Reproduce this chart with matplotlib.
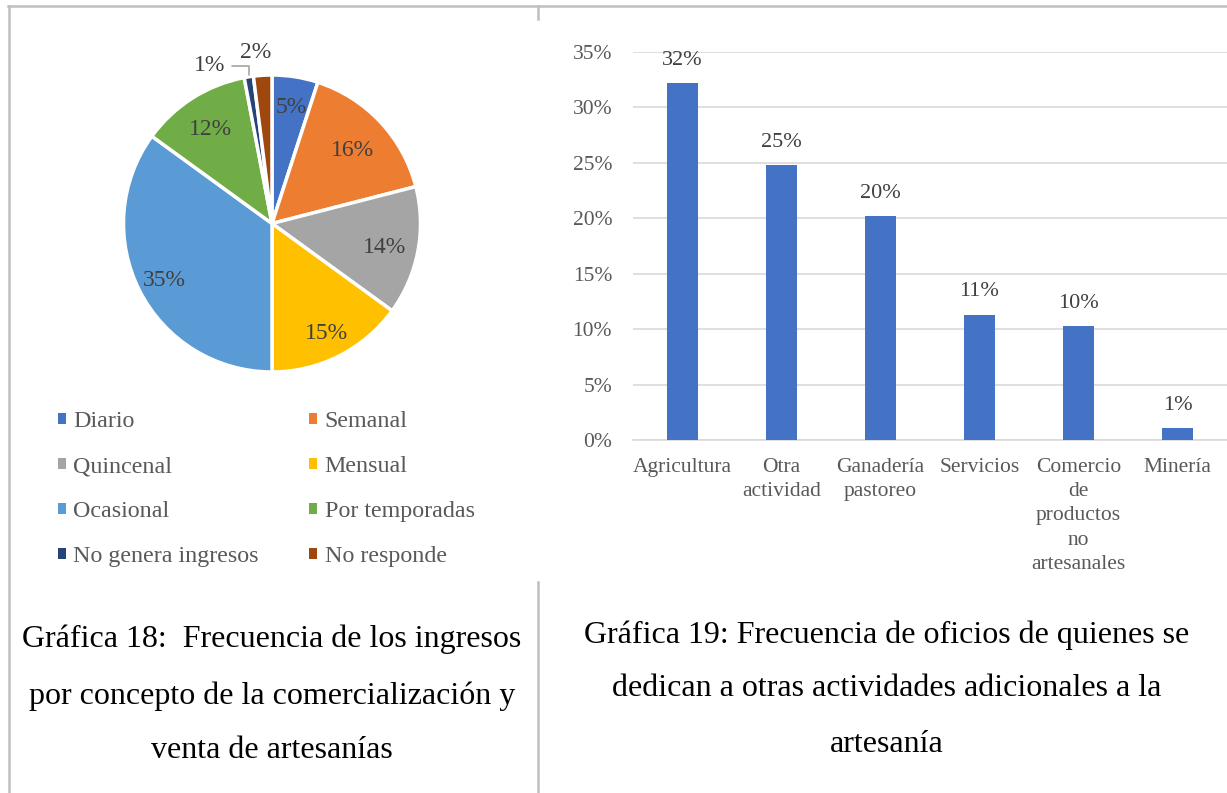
import numpy as np
import matplotlib
matplotlib.use("Agg")
import matplotlib.pyplot as plt
from matplotlib.lines import Line2D
from matplotlib.patches import Patch
from matplotlib.ticker import PercentFormatter

plt.rcParams["font.family"] = ["Liberation Serif", "DejaVu Serif"]

# pie data (Gráfica 18)
pie_labels = ["Diario", "Semanal", "Quincenal", "Mensual", "Ocasional",
              "Por temporadas", "No genera ingresos", "No responde"]
pie_values = [5, 16, 14, 15, 35, 12, 1, 2]
pie_colors = ["#4472C4", "#ED7D31", "#A5A5A5", "#FFC000", "#5B9BD5",
              "#70AD47", "#264478", "#9E480E"]

# bar data (Gráfica 19)
bar_cats = ["Agricultura", "Otra\nactividad", "Ganadería\npastoreo", "Servicios",
            "Comercio\nde\nproductos\nno\nartesanales", "Minería"]
bar_values = [0.322, 0.248, 0.202, 0.113, 0.103, 0.011]
bar_yticks = [0, 0.05, 0.10, 0.15, 0.20, 0.25, 0.30, 0.35]

caption_left = ["Gráfica 18:  Frecuencia de los ingresos",
                "por concepto de la comercialización y",
                "venta de artesanías"]
caption_right = ["Gráfica 19: Frecuencia de oficios de quienes se",
                 "dedican a otras actividades adicionales a la",
                 "artesanía"]

W, H = 1227, 793
fig = plt.figure(figsize=(W / 100, H / 100), dpi=100)

def box(x0, y0, x1, y1):
    # pixel box (top-left origin) -> figure fraction rect
    return [x0 / W, 1 - y1 / H, (x1 - x0) / W, (y1 - y0) / H]

gray_txt = "#595959"
lbl_txt = "#404040"

# ---- pie ----
axp = fig.add_axes(box(123.5, 75, 420.5, 372))
wedges, _ = axp.pie(pie_values, colors=pie_colors, startangle=90, counterclock=False,
                    radius=1, wedgeprops=dict(edgecolor="white", linewidth=2.5))
axp.set_xlim(-1, 1)
axp.set_ylim(-1, 1)
axp.set_aspect("equal")
axp.axis("off")

# label distance from centre for the inside labels (Excel "best fit")
inside_r = [0.81, 0.74, 0.77, 0.81, 0.81, 0.77]
for i, w in enumerate(wedges):
    ang = np.deg2rad((w.theta1 + w.theta2) / 2)
    txt = f"{pie_values[i]}%"
    if i < len(inside_r):
        r = inside_r[i]
        axp.text(r * np.cos(ang), r * np.sin(ang), txt, ha="center", va="center_baseline",
                 fontsize=17, color=lbl_txt)
    elif pie_values[i] == 2:
        axp.text(-0.108, 1.168, txt, ha="center", va="center_baseline", fontsize=17,
                 color=lbl_txt)
    else:
        x0, y0 = np.cos(ang), np.sin(ang)
        axp.annotate(txt, xy=(x0 * 1.01, y0 * 1.01), xytext=(-0.42, 1.08),
                     ha="center", va="center_baseline", fontsize=17, color=lbl_txt,
                     arrowprops=dict(arrowstyle="-", color="#A6A6A6", lw=1.2,
                                     connectionstyle="angle,angleA=0,angleB=90,rad=0",
                                     shrinkA=3, shrinkB=0),
                     annotation_clip=False)

# legend filled row by row (matplotlib fills columns first)
order = [0, 2, 4, 6, 1, 3, 5, 7]
handles = [Patch(facecolor=pie_colors[k], edgecolor="none") for k in order]
fig.legend(handles, [pie_labels[k] for k in order], loc="upper left",
           bbox_to_anchor=(46 / W, 1 - 399 / H), ncol=2, frameon=False,
           fontsize=17.3, labelcolor=gray_txt, handlelength=0.32, handleheight=0.32,
           handletextpad=0.32, columnspacing=2.1, labelspacing=1.0, borderpad=0)

# ---- bars ----
axb = fig.add_axes(box(633, 52, 1227, 440))
x = np.arange(len(bar_cats))
axb.bar(x, bar_values, width=0.31, color="#4472C4", zorder=3)
for xi, v in zip(x, bar_values):
    axb.text(xi, v + 0.012, f"{v * 100:.0f}%", ha="center", va="bottom",
             fontsize=16, color=lbl_txt)
axb.set_xlim(-0.5, len(bar_cats) - 0.5)
axb.set_ylim(0, 0.35)
axb.set_yticks(bar_yticks)
axb.yaxis.set_major_formatter(PercentFormatter(1.0, decimals=0))
axb.set_xticks(x)
axb.set_xticklabels(bar_cats, linespacing=1.37, va="top")
axb.tick_params(length=0, labelsize=15.5, labelcolor=gray_txt)
axb.tick_params(axis="y", pad=15)
axb.tick_params(axis="x", pad=13)
axb.grid(axis="y", color="#D9D9D9", linewidth=1.2, zorder=0)
for s in ["top", "right", "left"]:
    axb.spines[s].set_visible(False)
axb.spines["bottom"].set_color("#D9D9D9")
axb.spines["bottom"].set_linewidth(1.2)

# ---- captions ----
for yl, line in zip([639, 696, 751], caption_left):
    fig.text(272 / W, 1 - yl / H, line, ha="center", va="center", fontsize=23, color="black")
for yl, line in zip([635, 689, 744], caption_right):
    fig.text(887 / W, 1 - yl / H, line, ha="center", va="center", fontsize=23, color="black")

# ---- table borders ----
bc = "#BFBFBF"
def pline(xs, ys):
    fig.add_artist(Line2D([v / W for v in xs], [1 - v / H for v in ys],
                          color=bc, linewidth=1.8))
pline([8, W], [6, 6])
pline([9, 9], [6, H])
pline([538, 538], [6, 19])
pline([538, 538], [582, H])

fig.savefig("out.png", dpi=100)
